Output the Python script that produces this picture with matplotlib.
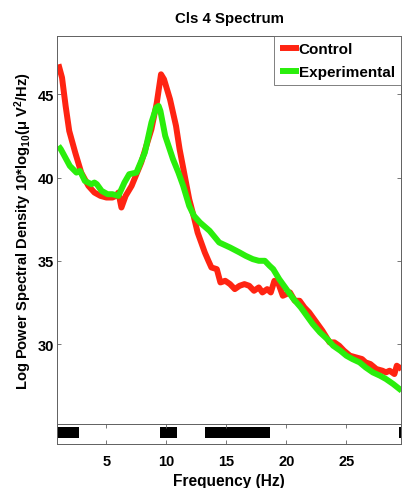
import matplotlib
matplotlib.use("Agg")
import matplotlib.pyplot as plt

plt.rcParams['font.family'] = ['Liberation Sans', 'DejaVu Sans']
plt.rcParams['mathtext.fontset'] = 'custom'
plt.rcParams['mathtext.rm'] = 'Liberation Sans:bold'
plt.rcParams['mathtext.it'] = 'Liberation Sans:bold'
plt.rcParams['mathtext.bf'] = 'Liberation Sans:bold'

# Control spectrum (Hz, dB)
control_freq = [1.0, 1.3, 1.6, 1.9, 2.4, 2.9, 3.5, 4.0, 4.5, 5.0, 5.5, 5.8, 6.0, 6.25,
                6.6, 7.1, 7.9, 8.75, 9.2, 9.55, 9.8, 10.3, 10.8, 11.1, 11.5, 11.9, 12.3,
                12.6, 13.2, 13.5, 13.75, 14.2, 14.5, 14.9, 15.3, 15.7, 16.1, 16.5, 16.9,
                17.3, 17.7, 18.0, 18.4, 18.7, 19.0, 19.3, 19.7, 20.3, 20.7, 21.1, 21.5,
                21.9, 22.5, 23.0, 23.6, 24.0, 24.4, 24.8, 25.3, 25.8, 26.3, 26.6, 27.0,
                27.5, 28.0, 28.3, 28.6, 29.0, 29.2, 29.6]
control_db = [46.8, 46.0, 44.3, 42.8, 41.5, 40.3, 39.5, 39.1, 38.9, 38.8, 38.8, 38.9, 39.1, 38.2,
              38.9, 39.5, 40.9, 42.9, 44.5, 46.2, 45.9, 44.7, 43.1, 41.7, 40.2, 38.7, 37.6,
              36.7, 35.5, 35.0, 34.6, 34.5, 33.7, 33.8, 33.6, 33.3, 33.5, 33.6, 33.5,
              33.2, 33.4, 33.1, 33.3, 33.1, 33.8, 33.7, 32.9, 33.1, 32.6, 32.6, 32.2,
              31.9, 31.3, 30.8, 30.1, 30.1, 29.9, 29.6, 29.3, 29.2, 29.1, 28.9, 28.8,
              28.5, 28.4, 28.3, 28.4, 28.2, 28.7, 28.5]

# Experimental spectrum (Hz, dB)
exp_freq = [1.0, 1.2, 1.5, 1.95, 2.5, 2.8, 3.2, 3.75, 4.0, 4.2, 4.6, 5.1, 5.5, 6.0, 6.5,
            6.9, 7.5, 8.2, 8.75, 9.15, 9.35, 9.5, 9.9, 10.55, 11.0, 11.4, 11.9, 12.3,
            12.8, 13.6, 14.4, 15.3, 16.1, 16.6, 17.2, 17.7, 18.2, 18.6, 18.9, 19.4,
            20.0, 20.6, 21.2, 21.7, 22.2, 22.8, 23.4, 23.9, 24.5, 25.0, 25.5, 26.1,
            26.6, 27.2, 27.8, 28.3, 28.9, 29.6]
exp_db = [41.9, 41.7, 41.3, 40.7, 40.3, 40.4, 39.8, 39.6, 39.7, 39.6, 39.2, 39.0, 39.0, 38.9, 39.7,
          40.2, 40.3, 41.5, 43.3, 44.2, 44.3, 44.0, 42.5, 41.1, 40.3, 39.5, 38.3, 37.7,
          37.3, 36.8, 36.1, 35.8, 35.5, 35.3, 35.1, 35.0, 35.0, 34.7, 34.5, 33.9,
          33.3, 32.7, 32.2, 31.7, 31.2, 30.7, 30.3, 29.9, 29.6, 29.3, 29.1, 28.9,
          28.6, 28.3, 28.1, 27.9, 27.6, 27.2]

# Frequency ranges with a significant group difference (Hz)
sig_start = [0.88, 9.5, 13.25, 29.4]
sig_end = [2.7, 10.9, 18.6, 29.6]

x_ticks = [5, 10, 15, 20, 25]
y_ticks = [30, 35, 40, 45]

RED = '#ff2412'
GREEN = '#2aee0c'
FRAME = '#606060'
XLIM = (0.88, 29.55)

fig = plt.figure(figsize=(4.05, 4.89), dpi=100)
ax = fig.add_axes([0.1407, 0.1309, 0.8494, 0.7934])
axb = fig.add_axes([0.1407, 0.0900, 0.8494, 0.0409])

ax.plot(control_freq, control_db, color=RED, lw=4.3, label='Control',
        solid_joinstyle='round', solid_capstyle='butt')
ax.plot(exp_freq, exp_db, color=GREEN, lw=4.3, label='Experimental',
        solid_joinstyle='round', solid_capstyle='butt')

ax.set_xlim(*XLIM)
ax.set_ylim(25.2, 48.5)
ax.set_xticks([])
ax.set_yticks(y_ticks)
ax.set_yticklabels([str(v) for v in y_ticks], fontsize=10.5, fontweight='bold')
ax.tick_params(axis='y', direction='in', left=True, right=True, length=3,
               width=0.6, color=FRAME, pad=2)
for s in ax.spines.values():
    s.set_color(FRAME)
    s.set_linewidth(0.7)

ax.set_title('Cls 4 Spectrum', fontsize=10.8, fontweight='bold', pad=10)
ax.set_ylabel(r'Log Power Spectral Density 10*log$_{10}$($\mathregular{\mu}$ V$^{2}$/Hz)',
              fontsize=10.6, fontweight='bold', labelpad=3)

leg = ax.legend(loc='upper right', borderaxespad=0.0, fancybox=False,
                prop={'size': 11, 'weight': 'bold'}, handlelength=1.25,
                handletextpad=0.0, borderpad=0.4, labelspacing=0.6)
leg.get_frame().set_edgecolor(FRAME)
leg.get_frame().set_linewidth(0.7)

# significance bars
axb.broken_barh([(s, e - s) for s, e in zip(sig_start, sig_end)], (0.3, 0.55),
                facecolor='black', edgecolor='none')
axb.set_xlim(*XLIM)
axb.set_ylim(0, 1)
axb.set_yticks([])
axb.set_xticks(x_ticks)
axb.set_xticklabels([str(v) for v in x_ticks], fontsize=10.5, fontweight='bold')
axb.tick_params(axis='x', direction='in', top=True, bottom=True, length=3,
                width=0.6, color=FRAME, pad=7)
for s in axb.spines.values():
    s.set_color(FRAME)
    s.set_linewidth(0.7)
axb.set_xlabel('Frequency (Hz)', fontsize=11.2, fontweight='bold', labelpad=4)

fig.savefig('out.png', dpi=100)
